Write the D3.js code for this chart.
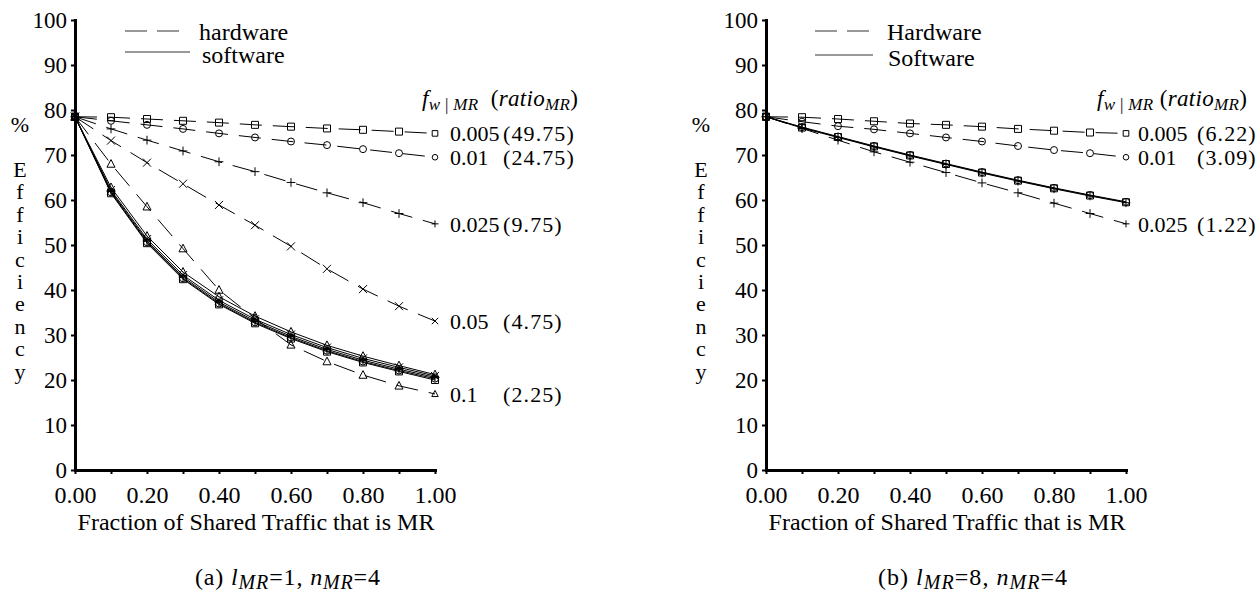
<!DOCTYPE html>
<html>
<head>
<meta charset="utf-8">
<script src="https://cdn.jsdelivr.net/npm/d3@7"></script>
<style>
  body { margin: 0; background: #fff; }
  svg text { font-family: "Liberation Serif", "DejaVu Serif", serif; }
</style>
</head>
<body>
<svg id="chart" width="1258" height="592"></svg>
<script>
// x positions of the samples (fraction of shared traffic that is MR)
const xs = [0, 0.1, 0.2, 0.3, 0.4, 0.5, 0.6, 0.7, 0.8, 0.9, 1.0];
const xTickLabels = ["0.00", "", "0.20", "", "0.40", "", "0.60", "", "0.80", "", "1.00"];
const yTicks = [0, 10, 20, 30, 40, 50, 60, 70, 80, 90, 100];

// (a) l_MR=1, n_MR=4
const fwA = ["0.005", "0.01", "0.025", "0.05", "0.1"];
const ratioA = ["(49.75)", "(24.75)", "(9.75)", "(4.75)", "(2.25)"];
const markersA = ["square", "circle", "plus", "times", "triangle"];

const hwA005 = [78.5, 78.4, 78.0, 77.6, 77.2, 76.7, 76.3, 75.9, 75.6, 75.2, 74.8];
const hwA01 = [78.5, 77.6, 76.7, 75.8, 74.8, 73.9, 73.0, 72.2, 71.3, 70.4, 69.5];
const hwA025 = [78.5, 75.8, 73.3, 70.9, 68.5, 66.3, 63.9, 61.6, 59.4, 57.0, 54.7];
const hwA05 = [78.5, 73.2, 68.3, 63.6, 58.9, 54.4, 49.7, 44.7, 40.2, 36.4, 33.1];
const hwA1 = [78.5, 68.0, 58.5, 49.2, 40.0, 33.7, 27.8, 24.1, 21.1, 18.7, 16.9];

const swA005 = [78.5, 61.5, 50.4, 42.4, 36.8, 32.6, 29.2, 26.3, 23.9, 21.9, 20.0];
const swA01 = [78.5, 61.7, 50.6, 42.6, 37.0, 32.8, 29.4, 26.5, 24.1, 22.1, 20.3];
const swA025 = [78.5, 61.9, 50.9, 42.9, 37.3, 33.1, 29.7, 26.8, 24.4, 22.4, 20.6];
const swA05 = [78.5, 62.2, 51.3, 43.3, 37.7, 33.5, 30.1, 27.2, 24.8, 22.8, 20.9];
const swA1 = [78.5, 62.8, 52.0, 44.0, 38.5, 34.2, 30.7, 27.7, 25.3, 23.2, 21.2];

// (b) l_MR=8, n_MR=4
const fwB = ["0.005", "0.01", "0.025"];
const ratioB = ["(6.22)", "(3.09)", "(1.22)"];
const markersB = ["square", "circle", "plus"];

const hwB005 = [78.5, 78.4, 78.0, 77.5, 77.0, 76.7, 76.3, 75.8, 75.4, 75.0, 74.8];
const hwB01 = [78.5, 77.4, 76.4, 75.7, 74.8, 73.9, 73.0, 72.0, 71.1, 70.4, 69.5];
const hwB025 = [78.5, 75.9, 73.3, 70.7, 68.4, 66.1, 63.8, 61.6, 59.3, 57.0, 54.7];

const swB005 = [78.5, 76.1, 74.0, 71.9, 69.9, 68.0, 66.1, 64.3, 62.6, 61.0, 59.5];
const swB01 = [78.5, 76.2, 74.1, 72.0, 70.0, 68.1, 66.2, 64.4, 62.7, 61.1, 59.6];
const swB025 = [78.5, 76.0, 73.9, 71.8, 69.8, 67.9, 66.0, 64.2, 62.5, 60.9, 59.4];

const svg = d3.select('#chart');
const SERIF = '"Liberation Serif", "DejaVu Serif", serif';

function markerPath(type, s) {
    switch (type) {
        case "square": return `M${-s},${-s}h${2 * s}v${2 * s}h${-2 * s}Z`;
        case "circle": return `M${-s},0a${s},${s} 0 1,0 ${2 * s},0a${s},${s} 0 1,0 ${-2 * s},0`;
        case "plus": s *= 1.25; return `M${-s},0h${2 * s}M0,${-s}v${2 * s}`;
        case "times": s *= 1.15; return `M${-s},${-s}L${s},${s}M${-s},${s}L${s},${-s}`;
        case "triangle": s *= 1.15; return `M0,${-s * 1.1}L${s},${s * 0.8}L${-s},${s * 0.8}Z`;
    }
}

// text with italic parts and subscripts, stretched to a given width
function richText(g, x, y, parts, size, subSize, width) {
    const t = g.append('text')
        .attr('x', x).attr('y', y)
        .style('font-family', SERIF)
        .style('font-size', size + 'px')
        .attr('xml:space', 'preserve');
    let low = false;
    parts.forEach(p => {
        const sub = !!p.sub;
        let dy = 0;
        if (sub && !low) dy = 4;
        if (!sub && low) dy = -4;
        low = sub;
        t.append('tspan')
            .attr('dy', dy)
            .style('font-style', p.i ? 'italic' : 'normal')
            .style('font-size', (sub ? subSize : size) + 'px')
            .text(p.t);
    });
    if (width) t.attr('textLength', width).attr('lengthAdjust', 'spacing');
    return t;
}

function addText(g, x, y, str, anchor, size) {
    return g.append('text')
        .attr('x', x).attr('y', y)
        .attr('text-anchor', anchor || 'start')
        .style('font-family', SERIF)
        .style('font-size', size + 'px')
        .text(str);
}

function drawPanel(cfg) {
    const x = d3.scaleLinear().domain([0, 1]).range([cfg.left, cfg.left + 360]);
    const y = d3.scaleLinear().domain([0, 100]).range([470, 20]);
    const g = svg.append('g');

    const line = d3.line()
        .x((d, i) => x(xs[i]))
        .y(d => y(d));

    // software lines (solid)
    cfg.sw.forEach(s => {
        g.append('path')
            .attr('d', line(s))
            .attr('fill', 'none')
            .attr('stroke', 'black')
            .attr('stroke-width', 1);
    });
    // hardware lines (dashed)
    cfg.hw.forEach(s => {
        g.append('path')
            .attr('d', line(s))
            .attr('fill', 'none')
            .attr('stroke', 'black')
            .attr('stroke-width', 1)
            .attr('stroke-dasharray', '22,11');
    });

    // markers
    const drawMarkers = (series, last) => {
        series.forEach((s, k) => {
            g.append('g').selectAll('path')
                .data(s)
                .join('path')
                .attr('transform', (d, i) => `translate(${x(xs[i])},${y(d)})`)
                .attr('d', (d, i) => markerPath(cfg.markers[k], i == xs.length - 1 && last ? 2.8 : 3.5))
                .attr('fill', 'none')
                .attr('stroke', 'black')
                .attr('stroke-width', 1);
        });
    };
    drawMarkers(cfg.sw, false);
    drawMarkers(cfg.hw, true);

    // axes
    const yAxis = g.append('g')
        .attr('transform', `translate(${cfg.left},0)`)
        .call(d3.axisLeft(y).tickValues(yTicks).tickSize(4).tickSizeOuter(0).tickPadding(4));
    const xAxis = g.append('g')
        .attr('transform', `translate(0,470)`)
        .call(d3.axisBottom(x).tickValues(xs).tickSize(4).tickSizeOuter(0).tickPadding(12)
            .tickFormat((d, i) => xTickLabels[i]));
    [[yAxis, 23], [xAxis, 24]].forEach(([a, size]) => {
        a.attr('font-family', SERIF).attr('font-size', size);
        a.selectAll('text').style('font-family', SERIF).style('font-size', size + 'px').attr('fill', 'black');
        a.selectAll('.tick line').attr('stroke-width', 2);
        a.select('.domain').attr('stroke-width', 3).attr('stroke-linecap', 'square');
    });

    // y axis title: "%" then the stacked letters of "Efficiency"
    const yt = g.append('text')
        .attr('text-anchor', 'middle')
        .style('font-family', SERIF)
        .style('font-size', '22px');
    yt.append('tspan').attr('x', cfg.yTitleX).attr('y', 132).text('%');
    'Efficiency'.split('').forEach((c, i) => {
        yt.append('tspan').attr('x', cfg.yTitleX).attr('y', 177 + i * 22.4).text(c);
    });

    // x axis title
    addText(g, cfg.left + 181, 530, 'Fraction of Shared Traffic that is MR', 'middle', 24);

    // caption
    richText(g, cfg.captionX, 585, [
        { t: cfg.captionTag + ' ' }, { t: 'l', i: true }, { t: 'MR', i: true, sub: true },
        { t: '=' + cfg.lmr + ', ' }, { t: 'n', i: true }, { t: 'MR', i: true, sub: true }, { t: '=4' }
    ], 24, 20, cfg.captionW);

    // legend
    const lg = g.append('g');
    lg.append('line')
        .attr('x1', cfg.legendX).attr('x2', cfg.legendX + 64)
        .attr('y1', 31).attr('y2', 31)
        .attr('stroke', '#777').attr('stroke-width', 1.6)
        .attr('stroke-dasharray', '22,10');
    lg.append('line')
        .attr('x1', cfg.legendX).attr('x2', cfg.legendX + cfg.legendSolidW)
        .attr('y1', cfg.legendSolidY).attr('y2', cfg.legendSolidY)
        .attr('stroke', '#777').attr('stroke-width', 1.6);
    addText(lg, cfg.hwTextX, 40, cfg.hwName, 'start', 24);
    addText(lg, cfg.swTextX, cfg.legendSolidY + 11, cfg.swName, 'start', 24);

    // series labels header
    richText(g, cfg.headerX, 106, [
        { t: 'f', i: true }, { t: 'w', i: true, sub: true }, { t: ' | ', sub: true },
        { t: 'MR', i: true, sub: true }, { t: cfg.headerGap + '(' }, { t: 'ratio', i: true },
        { t: 'MR', i: true, sub: true }, { t: ')' }
    ], 23, 17, cfg.headerW);

    // series labels at the right end of each hardware line
    cfg.hw.forEach((s, k) => {
        const yy = y(s[s.length - 1]);
        addText(g, cfg.fwX, yy, cfg.fw[k], 'start', 22).attr('dy', '0.35em');
        addText(g, cfg.ratioX, yy, cfg.ratio[k], 'start', 22).attr('dy', '0.35em')
            .style('letter-spacing', '1.1px');
    });
}

drawPanel({
    left: 75,
    hw: [hwA005, hwA01, hwA025, hwA05, hwA1],
    sw: [swA005, swA01, swA025, swA05, swA1],
    markers: markersA, fw: fwA, ratio: ratioA,
    yTitleX: 20, captionX: 195, captionW: 185, captionTag: '(a)', lmr: 1,
    legendX: 125, legendSolidW: 65, legendSolidY: 52,
    hwTextX: 199, swTextX: 202, hwName: 'hardware', swName: 'software',
    headerX: 422, headerW: 156, headerGap: '  ', fwX: 450, ratioX: 503
});

drawPanel({
    left: 766,
    hw: [hwB005, hwB01, hwB025],
    sw: [swB005, swB01, swB025],
    markers: markersB, fw: fwB, ratio: ratioB,
    yTitleX: 701, captionX: 878, captionW: 189, captionTag: '(b)', lmr: 8,
    legendX: 815, legendSolidW: 58, legendSolidY: 55,
    hwTextX: 887, swTextX: 888, hwName: 'Hardware', swName: 'Software',
    headerX: 1097, headerW: 150, headerGap: ' ', fwX: 1138, ratioX: 1197
});
</script>
</body>
</html>
